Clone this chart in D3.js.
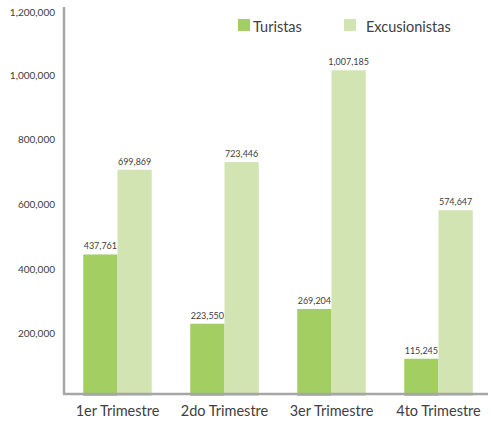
<!DOCTYPE html>
<html><head><meta charset="utf-8">
<script src="https://cdn.jsdelivr.net/npm/d3@7"></script>
<style>body{margin:0;background:#fff}svg{display:block}text{font-family:Lato,"Open Sans",sans-serif;fill:#404040}</style>
</head><body><svg id="c" width="491" height="425"></svg>
<script>
const categories = ["1er Trimestre","2do Trimestre","3er Trimestre","4to Trimestre"];
const seriesNames = ["Turistas","Excusionistas"];
const turistas = [437761,223550,269204,115245];
const excursionistas = [699869,723446,1007185,574647];
const yTicks = [200000,400000,600000,800000,1000000,1200000];
const colors = ["#a3cf62","#d1e4b1"];

const svg = d3.select("#c");
const x0 = d3.scaleBand().domain(categories).range([64,492]).paddingInner(0.36).paddingOuter(0.18);
const x1 = d3.scaleBand().domain(seriesNames).range([0,x0.bandwidth()]);
const y = d3.scaleLinear().domain([0,1200000]).range([396,8]);
const fmt = d3.format(",");

const data = categories.map((c,i)=>({c, vals:[turistas[i],excursionistas[i]]}));
const g = svg.append("g").selectAll("g").data(data).join("g").attr("transform",d=>`translate(${x0(d.c)},0)`);
g.selectAll("rect").data(d=>d.vals.map((v,j)=>({v,s:seriesNames[j],j}))).join("rect")
  .attr("x",d=>x1(d.s)).attr("width",x1.bandwidth())
  .attr("y",d=>y(d.v)).attr("height",d=>y(0)-y(d.v)).attr("fill",d=>colors[d.j]);
g.selectAll("text.v").data(d=>d.vals.map((v,j)=>({v,s:seriesNames[j],j}))).join("text")
  .attr("class","v").attr("x",d=>x1(d.s)+x1.bandwidth()/2).attr("y",d=>y(d.v)-5)
  .attr("text-anchor","middle").attr("font-size","9px").text(d=>fmt(d.v));

// y axis
const ya = svg.append("g").attr("transform","translate(64,0)")
  .call(d3.axisLeft(y).tickValues(yTicks).tickFormat(fmt).tickSize(0).tickPadding(9));
ya.select(".domain").attr("stroke","#a6a6a6").attr("stroke-width",2.5).attr("d","M0,7V394");
ya.selectAll(".tick text").attr("font-size","10px").attr("font-family","Lato,sans-serif").attr("fill","#404040")
  .attr("dy",(d)=> d===1200000 ? "0.75em" : "0.55em");

// x axis
const xa = svg.append("g").attr("transform","translate(0,394)")
  .call(d3.axisBottom(x0).tickSize(0).tickPadding(12));
xa.select(".domain").attr("stroke","#a6a6a6").attr("stroke-width",2.5).attr("d","M63,0H488");
xa.selectAll("text").attr("font-size","14.5px").attr("font-family","Lato,sans-serif").attr("fill","#404040");

// legend
const leg = svg.append("g");
const lx = [238,344], tx = [253,366];
seriesNames.forEach((n,i)=>{
  leg.append("rect").attr("x",lx[i]).attr("y",19).attr("width",12).attr("height",12).attr("fill",colors[i]);
  leg.append("text").attr("x",tx[i]).attr("y",32).attr("font-size","14.5px").text(n);
});
</script></body></html>
